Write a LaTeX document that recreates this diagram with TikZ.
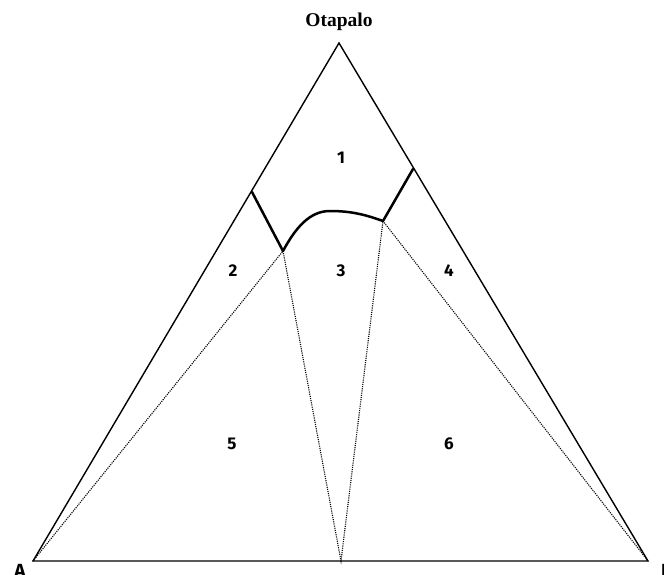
\documentclass[tikz,border=0pt]{standalone}
\usepackage{fontspec}
\setmainfont{Liberation Serif}
\newfontfamily\numfont{Fira Sans}
\begin{document}
\begin{tikzpicture}[x=1pt,y=-1pt,
  edge/.style={line width=1.4pt, line join=miter},
  bold/.style={line width=2.5pt, line cap=round, line join=round},
  dot/.style={dash pattern=on 1.1pt off 1.1pt, line width=1.1pt},
  num/.style={font=\numfont\bfseries\fontsize{17}{17}\selectfont},
  vlab/.style={font=\numfont\bfseries\fontsize{19}{19}\selectfont}]
\useasboundingbox (0,0) rectangle (664,575);
\coordinate (A) at (33,561);
\coordinate (B) at (648,561);
\coordinate (C) at (339,43);
\coordinate (L) at (252,192);
\coordinate (R) at (413,169);
\coordinate (P) at (283,251);
\coordinate (Q) at (383,221);
\coordinate (M) at (341,561);
\draw[edge] (A) -- (B) -- (C) -- cycle;
\draw[bold] (L) -- (P) .. controls (296,227) and (310,211) .. (330,211)
  .. controls (352,211) and (366,215) .. (Q) -- (R);
\draw[dot] (A) -- (P) -- (M) -- (Q) -- (B);
\node[font=\bfseries\fontsize{19.5}{19.5}\selectfont] (title) at (339,22) {Otapalo};
\node[vlab] (la) at (20,571) {A};
\node[vlab] (lb) at (667,571) {B};
\node[num] (n1) at (341,158) {1};
\node[num] (n2) at (233,271) {2};
\node[num] (n3) at (341,271) {3};
\node[num] (n4) at (449,271) {4};
\node[num] (n5) at (232,444) {5};
\node[num] (n6) at (449,444) {6};
\end{tikzpicture}
\end{document}
